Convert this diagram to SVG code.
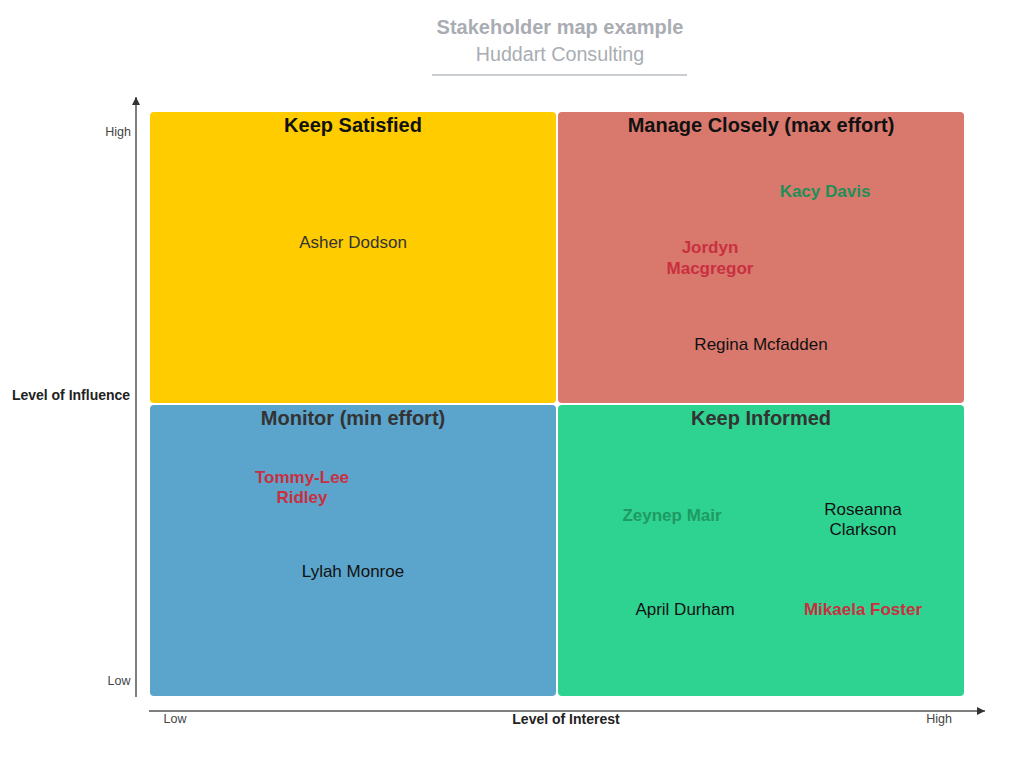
<svg xmlns="http://www.w3.org/2000/svg" width="1024" height="764" viewBox="0 0 1024 764">
<style>
text{font-family:"Liberation Sans",Arial,sans-serif;text-anchor:middle}
.t{font-weight:bold;font-size:20px;fill:#111}
.tg{font-weight:bold;font-size:20px;fill:#333}
.n{font-size:17px;fill:#111}
.nb{font-size:17px;font-weight:bold}
.red{fill:#c9303f}
.grn{fill:#1f8f58}
.ax{font-size:12.5px;fill:#444}
.axl{font-size:14px;font-weight:bold;fill:#222}
.axis{stroke:#555;stroke-width:1.5;fill:none}
</style>
<defs>
<marker id="arr" viewBox="0 0 10 10" refX="10" refY="5" markerWidth="9" markerHeight="8" markerUnits="userSpaceOnUse" orient="auto">
<path d="M0,0 L10,5 L0,10 z" fill="#333"/>
</marker>
</defs>
<rect width="1024" height="764" fill="#fff"/>
<g id="title">
<text x="560" y="34" style="font-size:20px;font-weight:bold;fill:#a9adb3">Stakeholder map example</text>
<text x="560" y="61" style="font-size:19.7px;fill:#a9adb3">Huddart Consulting</text>
<line x1="432" y1="75" x2="687" y2="75" stroke="#b8bcc2" stroke-width="1.5"/>
</g>
<g id="connectors">
<line class="axis" x1="136" y1="697" x2="136" y2="97" marker-end="url(#arr)"/>
<line class="axis" x1="149" y1="711" x2="985" y2="711" marker-end="url(#arr)"/>
</g>
<g id="axis-labels">
<text class="ax" x="118" y="136">High</text>
<text class="ax" x="119" y="685">Low</text>
<text class="axl" x="71" y="400">Level of Influence</text>
<text class="ax" x="175" y="723">Low</text>
<text class="axl" x="566" y="724">Level of Interest</text>
<text class="ax" x="939" y="723">High</text>
</g>
<g id="keep-satisfied">
<rect x="150" y="112" width="406" height="291" rx="4" fill="#ffcc00"/>
<text class="t" x="353" y="132">Keep Satisfied</text>
<text class="n" x="353" y="248" style="fill:#333">Asher Dodson</text>
</g>
<g id="manage-closely">
<rect x="558" y="112" width="406" height="291" rx="4" fill="#d9786c"/>
<text class="t" x="761" y="132">Manage Closely (max effort)</text>
<text class="nb grn" x="825" y="197">Kacy Davis</text>
<text class="nb red" x="710" y="253">Jordyn</text>
<text class="nb red" x="710" y="274">Macgregor</text>
<text class="n" x="761" y="350">Regina Mcfadden</text>
</g>
<g id="monitor">
<rect x="150" y="405" width="406" height="291" rx="4" fill="#5ba4cc"/>
<text class="tg" x="353" y="425">Monitor (min effort)</text>
<text class="nb red" x="302" y="483">Tommy-Lee</text>
<text class="nb red" x="302" y="503">Ridley</text>
<text class="n" x="353" y="577">Lylah Monroe</text>
</g>
<g id="keep-informed">
<rect x="558" y="405" width="406" height="291" rx="4" fill="#2fd391"/>
<text class="tg" x="761" y="425">Keep Informed</text>
<text class="nb" x="672" y="521" style="fill:#1e9a62">Zeynep Mair</text>
<text class="n" x="863" y="515">Roseanna</text>
<text class="n" x="863" y="535">Clarkson</text>
<text class="n" x="685" y="615">April Durham</text>
<text class="nb red" x="863" y="615">Mikaela Foster</text>
</g>
</svg>
